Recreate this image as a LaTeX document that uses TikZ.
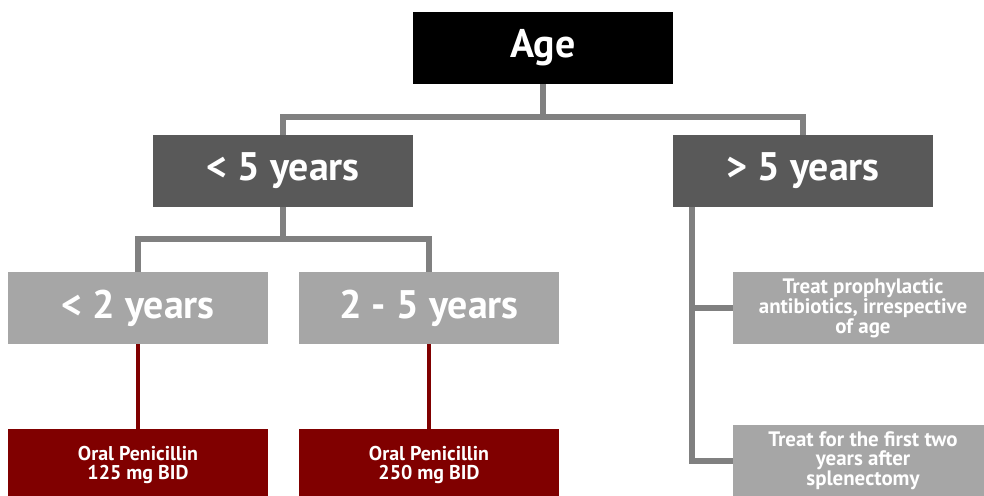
\documentclass[tikz,border=0pt]{standalone}
\usepackage{fontspec}
\setmainfont{PT Sans}
\definecolor{AgeBlack}{RGB}{0,0,0}
\definecolor{BandDark}{RGB}{89,89,89}
\definecolor{BandLight}{RGB}{166,166,166}
\definecolor{DoseRed}{RGB}{128,0,0}
\definecolor{LinkGrey}{RGB}{128,128,128}

\begin{document}
\begin{tikzpicture}[x=1bp,y=-1bp,
  box/.style={minimum width=260bp,minimum height=72bp,inner sep=0pt,
    text=white,align=center},
  bigtxt/.style={font=\bfseries\fontsize{40}{44}\selectfont},
  smalltxt/.style={font=\bfseries\fontsize{21}{19}\selectfont},
  dosetxt/.style={font=\bfseries\fontsize{20}{20}\selectfont},
  link/.style={LinkGrey,line width=6bp},
  redlink/.style={DoseRed,line width=4bp}]
\useasboundingbox (0,0) rectangle (984,496);
% boxes
\node[box,bigtxt,fill=AgeBlack] (age) at (543,48) {Age};
\node[box,bigtxt,fill=BandDark] (lt5) at (283,171) {< 5 years};
\node[box,bigtxt,fill=BandDark] (gt5) at (803,171) {> 5 years};
\node[box,bigtxt,fill=BandLight] (lt2) at (138,308) {< 2 years};
\node[box,bigtxt,fill=BandLight] (y25) at (429,308) {2 - 5 years};
\node[box,dosetxt,fill=DoseRed] (pen1) at (138,465) {Oral Penicillin\\125 mg BID};
\node[box,dosetxt,fill=DoseRed] (pen2) at (429,465) {Oral Penicillin\\250 mg BID};
\node[box,smalltxt,fill=BandLight] (treat1) at (863,308) {Treat prophylactic\\antibiotics, irrespective\\of age};
\node[box,smalltxt,fill=BandLight] (treat2) at (863,461) {Treat for the first two\\years after\\splenectomy};
% connectors
\coordinate (top) at (543,117);
\coordinate (split) at (283,239);
\coordinate (trunk) at (692,207);
\draw[link] (age.south) -- (top);
\draw[link] (lt5.north) |- (top) -| (gt5.north);
\draw[link] (lt5.south) -- (split);
\draw[link] (lt2.north) |- (split) -| (y25.north);
\draw[link] (trunk) |- (treat2.west);
\draw[link] (trunk |- treat1.west) -- (treat1.west);
\draw[redlink] (lt2.south) -- (pen1.north);
\draw[redlink] (y25.south) -- (pen2.north);
\end{tikzpicture}
\end{document}
